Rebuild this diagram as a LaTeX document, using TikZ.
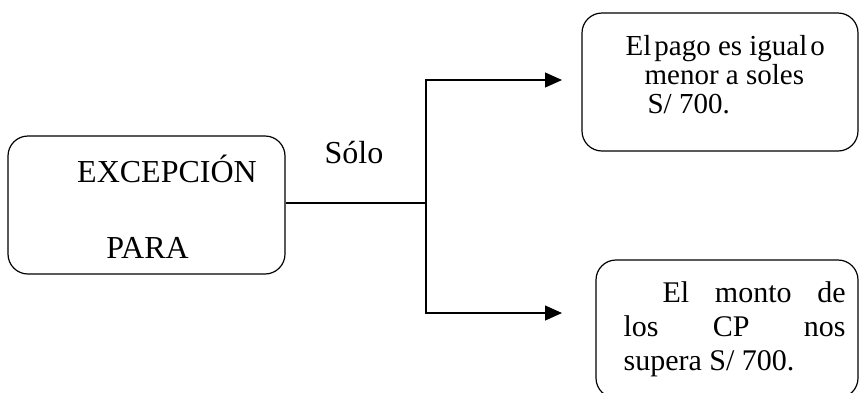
\documentclass[tikz,border=0pt]{standalone}
\usepackage{fontspec}
\setmainfont{Liberation Serif}
\usetikzlibrary{arrows.meta}
\begin{document}
\begin{tikzpicture} [
   x=1pt, y=-1pt, line width=1.2pt,
   caja/.style={draw, rounded corners=20pt, inner sep=0pt},
   flecha/.style={-{Triangle[length=17pt,width=15pt]}},
   letra/.style={font=\fontsize{32}{35}\selectfont, inner sep=0pt}
]
   \useasboundingbox (0,0) rectangle (859,392);
   \clip (0,0) rectangle (859,392);
   \node (exc) [caja, minimum width=277pt, minimum height=138pt] at (146.5,205) {};
   \node (pago) [caja, minimum width=276pt, minimum height=138pt] at (720,82) {};
   \node (monto) [caja, minimum width=262pt, minimum height=138pt] at (727,329) {};
   \node (excT) [letra, anchor=base] at (167,182) {EXCEPCIÓN};
   \node (paraT) [letra, anchor=base] at (147.5,258) {PARA};
   \node (solo) [letra, anchor=base west] at (324,163) {Sólo};
   % el ancla base es la ultima linea
   \node (pagoT) [letra, font=\fontsize{29}{29}\selectfont, anchor=base west, align=left] at (625,113)
      {El\hspace{3pt}pago es igual\hspace{3pt}o\\ \hspace*{19pt}menor a soles\\ \hspace*{22pt}S/ 700.};
   \node (montoT) [letra, font=\fontsize{30}{34}\selectfont, anchor=base west, align=left] at (623,370)
      {\makebox[222pt][s]{\hspace*{39pt}El\hfill monto\hfill de}\\
       \makebox[222pt][s]{los\hfill CP\hfill nos}\\
       supera S/ 700.};
   \coordinate (rama) at (426,203);
   \coordinate (arriba) at (426,80);
   \coordinate (abajo) at (426,313);
   \coordinate (puntaA) at (562,80);
   \coordinate (puntaB) at (562,313);
   \draw (rama -| exc.east) -- (rama);
   \draw [flecha] (rama) -- (arriba) -- (puntaA);
   \draw [flecha] (rama) -- (abajo) -- (puntaB);
\end{tikzpicture}
\end{document}
